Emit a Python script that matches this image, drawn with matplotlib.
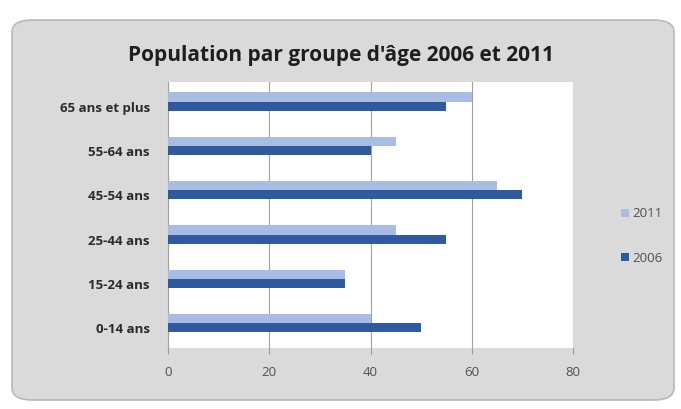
import matplotlib
matplotlib.use("Agg")
import matplotlib.pyplot as plt
from matplotlib.patches import FancyBboxPatch
import numpy as np

categories = ["0-14 ans", "15-24 ans", "25-44 ans", "45-54 ans", "55-64 ans", "65 ans et plus"]
values_2011 = [40, 35, 45, 65, 45, 60]
values_2006 = [50, 35, 55, 70, 40, 55]
series_names = ["2011", "2006"]
x_ticks = [0, 20, 40, 60, 80]

plt.rcParams['font.family'] = ['Open Sans', 'DejaVu Sans']

fig = plt.figure(figsize=(6.81, 4.09), dpi=100)
fig.patch.set_facecolor("white")

# gray rounded chart panel, kept behind the axes
panel = FancyBboxPatch((12 / 681, 1 - 400 / 409), 662 / 681, 380 / 409,
                       boxstyle="round,pad=0,rounding_size=0.03",
                       transform=fig.transFigure, facecolor="#dadada",
                       edgecolor="#b8b8b8", linewidth=1.2, zorder=-10)
fig.add_artist(panel)

ax = fig.add_axes([168 / 681, 1 - 348 / 409, (573 - 168) / 681, (348 - 82) / 409])
ax.set_zorder(1)
ax.set_facecolor("white")

y = np.arange(len(categories))
h = 0.21
ax.barh(y + 0.165, values_2011, height=h, color="#a9bce4", label=series_names[0], zorder=3)
ax.barh(y - 0.045, values_2006, height=h, color="#2f5a9f", label=series_names[1], zorder=3)

ax.set_xlim(0, 80)
ax.set_ylim(-0.5, len(categories) - 0.5)
ax.set_xticks(x_ticks)
ax.set_xticklabels([str(t) for t in x_ticks], fontsize=9.5, color="#505050")
ax.set_yticks(y - 0.06)
ax.set_yticklabels(categories, fontsize=9.5, fontweight="bold", color="#2a2a2a")
ax.tick_params(axis="y", length=0, pad=13)
ax.tick_params(axis="x", length=4, color="#999999", pad=9)
ax.grid(axis="x", color="#a0a0a0", linewidth=0.8, zorder=0)
for s in ["top", "right", "bottom"]:
    ax.spines[s].set_visible(False)
ax.spines["left"].set_color("#a0a0a0")

fig.text(0.5, 1 - 55 / 409, "Population par groupe d'âge 2006 et 2011",
         ha="center", va="center", fontsize=15, fontweight="bold", color="#1e1e1e")

leg = ax.legend(loc="center left", bbox_to_anchor=(1.09, 0.42), frameon=False,
                fontsize=9.5, handlelength=0.55, handleheight=0.55, labelspacing=2.4,
                handletextpad=0.25)
for t in leg.get_texts():
    t.set_color("#505050")

fig.savefig("out.png", dpi=100, facecolor=fig.get_facecolor())
